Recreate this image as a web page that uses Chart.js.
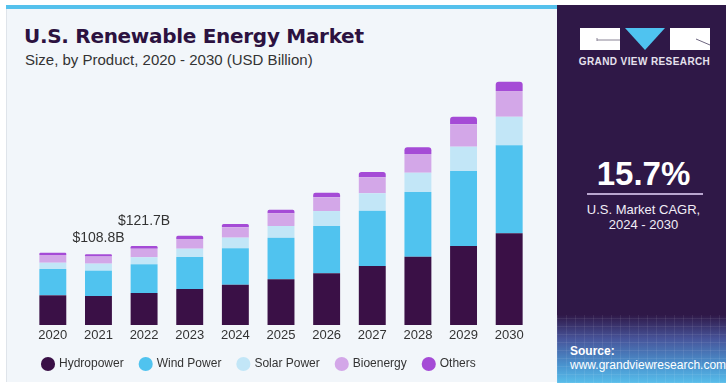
<!DOCTYPE html>
<html>
<head>
<meta charset="utf-8">
<script src="https://cdn.jsdelivr.net/npm/chart.js@4"></script>
<style>
  body { margin: 0; width: 726px; height: 383px; background: #fff; position: relative; overflow: hidden; font-family: "Liberation Sans", Arial, sans-serif; }
  .panel { position: absolute; left: 6px; top: 5px; width: 551px; height: 377px; background: #f2f6fa; border-left: 1px solid #dfe4ea; box-sizing: border-box; }
  .strip { position: absolute; left: 6px; top: 5px; width: 551px; height: 4px; background: #55c1ec; }
  .title { position: absolute; left: 24px; top: 26px; margin: 0; font: bold 20px/20px "DejaVu Sans", sans-serif; letter-spacing: -0.3px; color: #2c1240; white-space: nowrap; }
  .subtitle { position: absolute; left: 25px; top: 52px; font-size: 15px; line-height: 15px; color: #333; white-space: nowrap; }
  .chart { position: absolute; left: 0; top: 0; width: 556px; height: 383px; }
  .side { position: absolute; left: 557px; top: 5px; width: 169px; height: 378px; background: #2f1847; overflow: hidden; color: #fff; }
  .side .grid { position: absolute; left: 0; right: 0; top: 310px; bottom: 0;
    background:
      repeating-linear-gradient(90deg, rgba(255,255,255,0.07) 0 1px, transparent 1px 9px),
      repeating-linear-gradient(0deg, rgba(255,255,255,0.07) 0 1px, transparent 1px 8px),
      linear-gradient(180deg, #2f1847 0%, #47549a 35%, #4a95d0 75%, #58bdea 100%); }
  .brand { position: absolute; left: 3px; width: 169px; top: 51px; text-align: center; font: bold 10px/12px "Liberation Sans", Arial, sans-serif; letter-spacing: 0.4px; color: #e6e2ee; }
  .cagr { position: absolute; left: 2px; width: 169px; top: 151px; text-align: center; font: bold 33px/36px "Liberation Sans", Arial, sans-serif; }
  .rule { position: absolute; left: 30px; width: 116px; top: 188px; height: 2px; background: #b9a6cf; }
  .cagr-note { position: absolute; left: 2px; width: 169px; top: 197px; text-align: center; font-size: 13px; line-height: 15px; color: #f2eef7; }
  .source { position: absolute; left: 13px; top: 339px; font-size: 12px; line-height: 14px; color: #fff; }
</style>
</head>
<body>
<div class="panel"></div>
<div class="strip"></div>
<h1 class="title">U.S. Renewable Energy Market</h1>
<div class="subtitle">Size, by Product, 2020 - 2030 (USD Billion)</div>
<div class="chart"><canvas id="marketChart" width="556" height="383"></canvas></div>

<div class="side">
  <svg width="169" height="50" style="position:absolute;left:0;top:0">
    <rect x="23" y="23" width="40" height="22" fill="#fff"/>
    <path d="M40 35 H63 M40 33 V36" stroke="#8a8496" stroke-width="1" fill="none"/>
    <polygon points="68,23 108,23 88,45" fill="#4fc3f0"/>
    <rect x="113" y="23" width="40" height="22" fill="#fff"/>
    <path d="M139 34 L153 40" stroke="#6d6680" stroke-width="1" fill="none"/>
  </svg>
  <div class="brand">GRAND VIEW RESEARCH</div>
  <div class="cagr">15.7%</div>
  <div class="rule"></div>
  <div class="cagr-note">U.S. Market CAGR,<br>2024 - 2030</div>
  <div class="grid"></div>
  <div class="source"><b>Source:</b><br>www.grandviewresearch.com</div>
</div>

<script>
// market size by product, USD billion
var years = ['2020', '2021', '2022', '2023', '2024', '2025', '2026', '2027', '2028', '2029', '2030'];
var hydropower = [45.7, 44.7, 49.3, 55.4, 62.1, 70.4, 79.6, 90.9, 105.2, 121.7, 141.2];
var windPower  = [40.5, 39.0, 44.2, 49.3, 56.1, 64.1, 72.8, 85.2, 99.6, 115.5, 135.5];
var solarPower = [9.7, 10.8, 10.8, 12.8, 16.3, 18.0, 23.1, 26.8, 29.7, 37.4, 44.0];
var bioenergy  = [11.9, 10.8, 13.2, 14.9, 16.0, 19.6, 21.1, 24.6, 28.8, 34.5, 39.6];
var others     = [3.5, 3.5, 4.2, 5.1, 5.1, 5.5, 7.1, 8.2, 10.3, 11.7, 14.3];

// years that get a total label above the bar
var labelledYears = ['2021', '2022'];

document.addEventListener('DOMContentLoaded', function() {
  var ctx = document.getElementById('marketChart');
  if (!ctx) return;
  var font = '"Liberation Sans", Arial, sans-serif';

  new Chart(ctx, {
    type: 'bar',
    data: {
      labels: years,
      datasets: [
        { label: 'Hydropower', data: hydropower, backgroundColor: '#3a1046' },
        { label: 'Wind Power', data: windPower, backgroundColor: '#50c3ef' },
        { label: 'Solar Power', data: solarPower, backgroundColor: '#c2e6f7' },
        { label: 'Bioenergy', data: bioenergy, backgroundColor: '#d3a7e8' },
        { label: 'Others', data: others, backgroundColor: '#a54bd6',
          borderRadius: { topLeft: 3, topRight: 3 }, borderSkipped: 'bottom' }
      ]
    },
    options: {
      responsive: false,
      devicePixelRatio: 1,
      animation: false,
      layout: { padding: { left: 26, right: 24, top: 75, bottom: 3 } },
      datasets: { bar: { barPercentage: 0.59, categoryPercentage: 1 } },
      plugins: {
        legend: {
          position: 'bottom',
          align: 'start',
          labels: {
            usePointStyle: true, pointStyle: 'circle', boxWidth: 10, boxHeight: 10,
            padding: 17, color: '#333', font: { size: 12, family: font }
          }
        },
        tooltip: { enabled: false }
      },
      scales: {
        x: {
          stacked: true,
          grid: { display: false, drawTicks: false },
          border: { display: false },
          ticks: { color: '#333', padding: 3, font: { size: 13, family: font } },
          afterFit: function(scale) { scale.height = 16; }
        },
        // kept only as a thin spacer so the legend can start left of the bars
        y: {
          stacked: true, min: 0, max: 385,
          grid: { display: false }, border: { display: false }, ticks: { display: false },
          afterFit: function(scale) { scale.width = 4; }
        }
      }
    },
    plugins: [{
      afterDatasetsDraw: function(chart) {
        var c = chart.ctx;
        var lift = { '2021': 16, '2022': 25 };
        c.save();
        c.fillStyle = '#333';
        c.font = '14px ' + font;
        c.textAlign = 'center';
        c.textBaseline = 'middle';
        labelledYears.forEach(function(yr) {
          var i = years.indexOf(yr);
          var total = 0;
          chart.data.datasets.forEach(function(ds) { total += ds.data[i]; });
          var x = chart.scales.x.getPixelForValue(i);
          var y = chart.scales.y.getPixelForValue(total);
          c.fillText('$' + total.toFixed(1) + 'B', x, y - lift[yr]);
        });
        c.restore();
      }
    }]
  });
});
</script>
</body>
</html>
